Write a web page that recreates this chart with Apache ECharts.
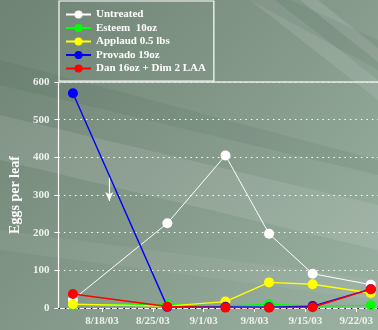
<!DOCTYPE html>
<html>
<head>
<meta charset="utf-8">
<script src="https://cdn.jsdelivr.net/npm/echarts@6/dist/echarts.min.js"></script>
<style>
  html, body { margin: 0; padding: 0; }
  #chart { width: 378px; height: 330px; }
</style>
</head>
<body>
<div id="chart"></div>
<script>
// Sampling dates and egg counts per leaf for each treatment
const sampleDates = ['2003/08/14', '2003/08/27', '2003/09/04', '2003/09/10', '2003/09/16', '2003/09/24'];
const untreated   = [22, 225, 405, 197, 91, 62];
const esteem      = [8, 10, 5, 10, 5, 7];
const applaud     = [10, 5, 17, 68, 63, 40];
const provado     = [570, 3, 3, 2, 5, 50];
const danDim      = [37, 4, 1, 1, 2, 50];

const seriesNames  = ['Untreated', 'Esteem  10oz', 'Applaud 0.5 lbs', 'Provado 19oz', 'Dan 16oz + Dim 2 LAA'];
const seriesColors = ['#ffffff', '#00ff00', '#ffff00', '#0000ff', '#ff0000'];
const seriesData   = [untreated, esteem, applaud, provado, danDim];

// Weekly date ticks along the bottom
const tickDates  = ['2003/08/18', '2003/08/25', '2003/09/01', '2003/09/08', '2003/09/15', '2003/09/22'];
const tickLabels = ['8/18/03', '8/25/03', '9/1/03', '9/8/03', '9/15/03', '9/22/03'];
const axisStart  = '2003/08/12';
const axisEnd    = '2003/09/25';
const yTicks     = [0, 100, 200, 300, 400, 500, 600];

// Downward arrow annotation
const arrowFrom = ['2003/08/19', 347];
const arrowTo   = ['2003/08/19', 284];

// Dates are placed on a day-count scale measured from the first day of the axis
const DAY = 86400000;
const day = s => Math.round((new Date(s).getTime() - new Date(axisStart).getTime()) / DAY);
const font = '"Liberation Serif", "DejaVu Serif", serif';

const chart = echarts.init(document.getElementById('chart'));

const series = seriesNames.map((name, i) => ({
  name,
  type: 'line',
  data: sampleDates.map((d, k) => [day(d), seriesData[i][k]]),
  symbol: 'circle',
  symbolSize: 10,
  showSymbol: true,
  color: seriesColors[i],
  lineStyle: { color: seriesColors[i], width: i === 0 ? 1 : 1.4 },
  itemStyle: { color: seriesColors[i] },
  emphasis: { disabled: true },
  z: 3 + i
}));

// Top border line, dotted zero line and the arrow annotation
series.push({
  type: 'line',
  data: [],
  silent: true,
  z: 2,
  markLine: {
    silent: true,
    symbol: ['none', 'none'],
    label: { show: false },
    animation: false,
    data: [
      { yAxis: 600, lineStyle: { color: '#e4ece4', width: 1.5, type: 'solid' } },
      { yAxis: 0, lineStyle: { color: '#111111', width: 1.2, type: [1.5, 5] } },
      [
        { coord: [day(arrowFrom[0]), arrowFrom[1]], symbol: 'none' },
        { coord: [day(arrowTo[0]), arrowTo[1]], symbol: 'arrow', symbolSize: [6, 9],
          lineStyle: { color: '#ffffff', width: 1.2, type: 'solid' } }
      ]
    ]
  }
});

const tickDays = tickDates.map(day);

chart.setOption({
  animation: false,
  backgroundColor: {
    type: 'linear', x: 0, y: 0, x2: 1, y2: 1,
    colorStops: [
      { offset: 0, color: '#6e8373' },
      { offset: 0.5, color: '#84998a' },
      { offset: 1, color: '#9bb2a2' }
    ]
  },
  graphic: [
    { type: 'polygon', silent: true, z: -10,
      shape: { points: [[0, 115], [0, 160], [378, 250], [378, 205]] },
      style: { fill: 'rgba(255,255,255,0.10)' } },
    { type: 'polygon', silent: true, z: -10,
      shape: { points: [[0, 60], [0, 85], [378, 175], [378, 160]] },
      style: { fill: 'rgba(40,60,45,0.08)' } },
    { type: 'polygon', silent: true, z: -10,
      shape: { points: [[250, 0], [275, 0], [378, 80], [378, 100]] },
      style: { fill: 'rgba(255,255,255,0.10)' } },
    { type: 'polygon', silent: true, z: -10,
      shape: { points: [[300, 0], [318, 0], [378, 48], [378, 62]] },
      style: { fill: 'rgba(255,255,255,0.12)' } },
    { type: 'polygon', silent: true, z: -10,
      shape: { points: [[250, 0], [290, 0], [378, 40], [378, 70]] },
      style: { fill: 'rgba(40,60,45,0.08)' } },
    { type: 'polygon', silent: true, z: -10,
      shape: { points: [[0, 230], [0, 250], [378, 300], [378, 280]] },
      style: { fill: 'rgba(255,255,255,0.06)' } }
  ],
  grid: { left: 58, right: -4, top: 82, bottom: 22, containLabel: false },
  legend: {
    orient: 'vertical',
    left: 59, top: 1,
    padding: [7, 8, 6, 6],
    borderColor: '#ffffff',
    borderWidth: 1.2,
    itemWidth: 25,
    itemHeight: 10,
    itemGap: 0.5,
    data: seriesNames,
    textStyle: { color: '#ffffff', fontFamily: font, fontWeight: 'bold', fontSize: 11, lineHeight: 13 }
  },
  xAxis: {
    type: 'value',
    min: 0,
    max: day(axisEnd),
    axisLine: { show: true, onZero: false, lineStyle: { color: '#ffffff', width: 1.2 } },
    axisTick: { show: true, customValues: tickDays, length: 4, lineStyle: { color: '#ffffff' } },
    axisLabel: {
      customValues: tickDays,
      color: '#eef2ee', fontFamily: font, fontWeight: 'bold', fontSize: 11, margin: 8,
      formatter: v => tickLabels[tickDays.indexOf(v)] || ''
    },
    splitLine: { show: false }
  },
  yAxis: {
    type: 'value',
    min: 0, max: 600, interval: 100,
    name: 'Eggs per leaf',
    nameLocation: 'middle',
    nameGap: 35,
    nameTextStyle: { color: '#ffffff', fontFamily: font, fontWeight: 'bold', fontSize: 14 },
    axisLine: { show: true, lineStyle: { color: '#ffffff', width: 1.2 } },
    axisTick: { show: true, length: 4, lineStyle: { color: '#ffffff' } },
    axisLabel: {
      color: '#eef2ee', fontFamily: font, fontWeight: 'bold', fontSize: 11, margin: 9,
      formatter: v => yTicks.includes(v) ? String(v) : ''
    },
    splitLine: { show: true, lineStyle: { color: '#ffffff', width: 1.2, type: [1.5, 4] } }
  },
  series
});
</script>
</body>
</html>
